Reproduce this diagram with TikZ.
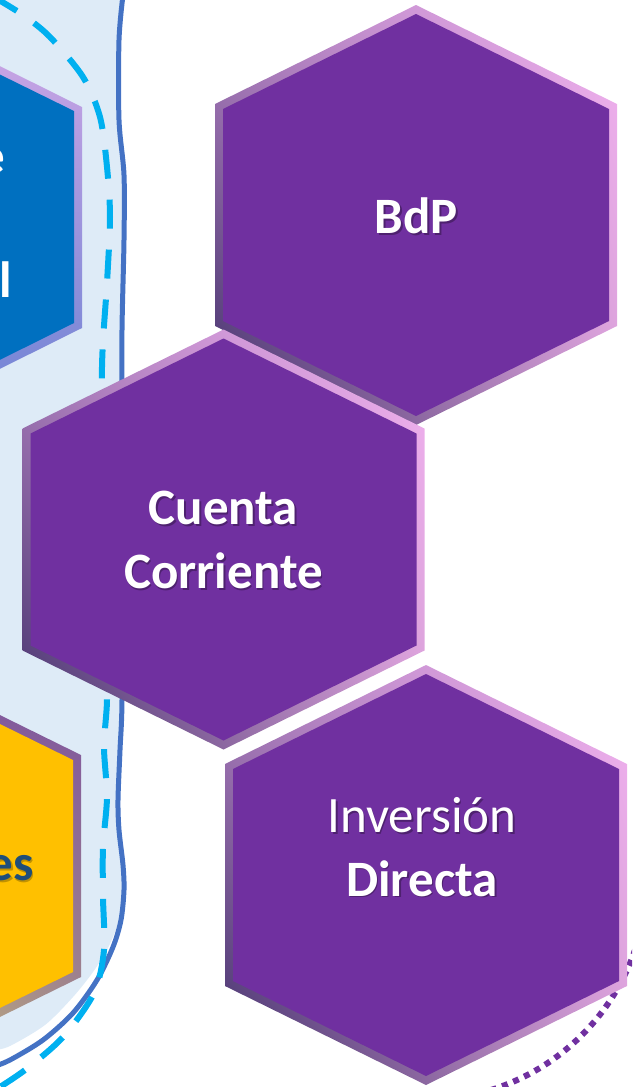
\documentclass[tikz,border=0pt]{standalone}
\usepackage{fontspec}
\setmainfont{Carlito}
\usetikzlibrary{shadings}

\definecolor{hexpurple}{HTML}{7030A0}
\definecolor{hexblue}{HTML}{0070C0}
\definecolor{hexyellow}{HTML}{FFC000}
\definecolor{panelblue}{HTML}{DEEBF7}
\definecolor{wavyblue}{HTML}{4472C4}
\definecolor{dashcyan}{HTML}{00B0F0}
\definecolor{textnavy}{HTML}{1F4E79}
\definecolor{rimmauve}{HTML}{B080C0}
\definecolor{rimpink}{HTML}{F2B2F0}
\definecolor{rimdark}{HTML}{3E2E68}
\definecolor{rimlilac}{HTML}{D8A0D8}
\definecolor{rimlavender}{HTML}{D4A8E6}
\definecolor{rimsteel}{HTML}{6A82D4}
\definecolor{rimplum}{HTML}{7A4EA0}
\definecolor{rimkhaki}{HTML}{D0C878}
\definecolor{rimtaupe}{HTML}{A89088}

\begin{document}
\begin{tikzpicture}[x=1pt, y=-1pt, every node/.style={inner sep=0pt},
	purpleborder/.style={upper left=rimmauve, upper right=rimpink, lower left=rimdark, lower right=rimlilac},
	hexlabel/.style={text=white, align=center, font=\fontsize{51}{63.5}\selectfont\bfseries},
	hexshadow/.style={hexlabel, text=black, opacity=0.3}]
	\useasboundingbox (0,0) rectangle (632,1087);
	\clip (0,0) rectangle (632,1087);
	% light blue panel on the left
	\fill[panelblue] (-5,-5) -- plot[smooth] coordinates {(122,-5) (119,40) (119,120) (124,175) (124,240) (122,330) (122,560) (122,700) (120,750) (118,800) (119,830) (123,865) (123,890) (119,920) (108,948) (93,972) (73,997) (45,1025) (10,1046) (-5,1050)} -- cycle;
	\draw[wavyblue, line width=5pt] plot[smooth] coordinates {(123,-5) (119,40) (119,120) (124,175) (124,240) (122,330) (122,420) (122,560) (122,700) (120,750) (118,800) (119,830) (123,865) (124,890) (121,920) (113,947) (97,980) (73,1013) (43,1040) (10,1060) (-5,1066)};
	\draw[dashcyan, line width=6pt, dash pattern=on 29pt off 21pt] plot[smooth] coordinates {(-8,-4) (23,15) (50,37) (83,77) (100,117) (107,167) (110,217) (107,283) (102,367) (103,500) (105,650) (107,700) (104,747) (107,797) (103,847) (103,897) (104,950) (94,993) (63,1037) (25,1070) (-8,1092)};
	% partial hexagons cut by the left edge
	\shade[upper left=rimlavender, upper right=rimlavender, lower left=rimsteel, lower right=rimsteel]
		(-119,7) -- (82,107) -- (82,328) -- (-119,428) -- cycle;
	\fill[hexblue] (-119,16) -- (74,111) -- (74,323) -- (-119,419) -- cycle;
	\shade[upper left=rimplum, upper right=rimplum, lower left=rimkhaki, lower right=rimtaupe]
		(-120,656) -- (81,755) -- (81,977) -- (-120,1076) -- cycle;
	\fill[hexyellow] (-120,665) -- (73,760) -- (73,972) -- (-120,1067) -- cycle;
	\node[hexlabel, anchor=base east] (finE) at (5,173) {e};
	\node[hexlabel, anchor=base east] (finL) at (12.5,297) {l};
	\node[hexshadow, anchor=base east, text=black!80!hexyellow] (finSs) at (35.5,882) {es};
	\node[hexlabel, anchor=base east, text=textnavy] (finS) at (34,880) {es};
	% dotted ring behind the last hexagon
	\draw[hexpurple, line width=6pt, dash pattern=on 6pt off 6pt] (425,878) ++(0:222) arc[start angle=0, end angle=95, radius=222];
	% purple hexagons
	\foreach \cx/\cy in {416/215, 223.5/539.5, 426/875} {
		\shade[purpleborder] (\cx,\cy-210) -- (\cx+201,\cy-111) -- (\cx+201,\cy+111) -- (\cx,\cy+210) -- (\cx-201,\cy+111) -- (\cx-201,\cy-111) -- cycle;
		\fill[hexpurple] (\cx,\cy-201) -- (\cx+193,\cy-106) -- (\cx+193,\cy+106) -- (\cx,\cy+201) -- (\cx-193,\cy+106) -- (\cx-193,\cy-106) -- cycle;
	}
	\node[hexshadow] (bdps) at (418,218) {BdP};
	\node[hexlabel] (bdp) at (416.5,216) {BdP};
	\node[hexshadow] (ccs) at (225,542) {Cuenta\\Corriente};
	\node[hexlabel] (cc) at (223.5,540) {Cuenta\\Corriente};
	\node[hexshadow] (ids) at (423.5,848.5) {{\mdseries Inversión}\\Directa};
	\node[hexlabel] (id) at (422,847) {{\mdseries Inversión}\\Directa};
\end{tikzpicture}
\end{document}
